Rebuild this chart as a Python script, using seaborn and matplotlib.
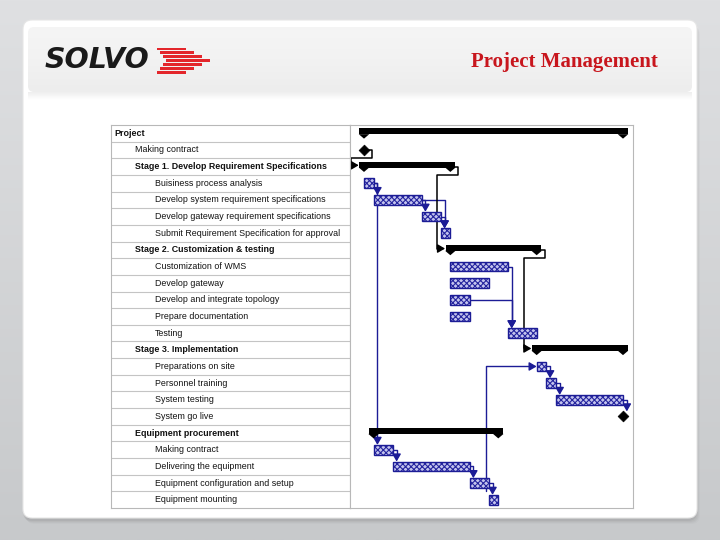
import numpy as np
import matplotlib
matplotlib.use("Agg")
import matplotlib.pyplot as plt
import seaborn as sns
from matplotlib.patches import FancyBboxPatch, Polygon, Rectangle

# ---------------- data ----------------
tasks = [
    "Project",
    "Making contract",
    "Stage 1. Develop Requirement Specifications",
    "Buisiness process analysis",
    "Develop system requirement specifications",
    "Develop gateway requirement specifications",
    "Submit Requirement Specification for approval",
    "Stage 2. Customization & testing",
    "Customization of WMS",
    "Develop gateway",
    "Develop and integrate topology",
    "Prepare documentation",
    "Testing",
    "Stage 3. Implementation",
    "Preparations on site",
    "Personnel training",
    "System testing",
    "System go live",
    "Equipment procurement",
    "Making contract",
    "Delivering the equipment",
    "Equipment configuration and setup",
    "Equipment mounting",
]
levels = [0, 1, 1, 2, 2, 2, 2, 1, 2, 2, 2, 2, 2, 1, 2, 2, 2, 2, 1, 2, 2, 2, 2]
kinds = ["summary", "milestone", "summary", "task", "task", "task", "task",
         "summary", "task", "task", "task", "task", "task",
         "summary", "task", "task", "task", "milestone",
         "summary", "task", "task", "task", "task"]
starts = [0, 0, 0, 0, 1, 6, 8, 9, 9, 9, 9, 9, 15, 18, 18, 19, 20, 27, 1, 1, 3, 11, 13]
durations = [27, 0, 9, 1, 5, 2, 1, 9, 6, 4, 2, 2, 3, 9, 1, 1, 7, 0, 13, 2, 8, 2, 1]

task_links = [(3, 4), (3, 19), (4, 5), (4, 6), (5, 6), (8, 12), (10, 12),
              (14, 15), (15, 16), (16, 17), (19, 20), (20, 21), (21, 22)]
up_links = [(21, 14)]
summary_links = [(1, 2), (2, 7), (7, 13)]

# ---------------- style ----------------
sns.set_theme(style="white")
plt.rcParams["font.family"] = ["Liberation Sans", "DejaVu Sans"]
plt.rcParams["hatch.linewidth"] = 0.8

W, H = 720, 540
fig = plt.figure(figsize=(7.2, 5.4), dpi=100)

# background axes in pixel coordinates
bg = fig.add_axes([0, 0, 1, 1])
bg.set_xlim(0, W)
bg.set_ylim(H, 0)
bg.axis("off")
grad = np.linspace(0, 1, 256).reshape(-1, 1)
bg.imshow(grad, extent=(0, W, H, 0), cmap=matplotlib.colors.LinearSegmentedColormap.from_list(
    "bgc", ["#dfe0e2", "#c7c9cb"]), aspect="auto", zorder=0)

# panel shadow + panel
for i, a in enumerate([0.10, 0.08, 0.06, 0.04]):
    bg.add_patch(FancyBboxPatch((23 + i, 21 + i + 2), 674, 498,
                                boxstyle="round,pad=0,rounding_size=9",
                                fc="#707070", ec="none", alpha=a, zorder=1))
panel = FancyBboxPatch((23, 20), 674, 498, boxstyle="round,pad=0,rounding_size=9",
                       fc="white", ec="#e6e6e6", lw=0.8, zorder=2)
bg.add_patch(panel)

# header band
hdr = FancyBboxPatch((28, 27), 664, 65, boxstyle="round,pad=0,rounding_size=6",
                     fc="none", ec="none", zorder=3)
bg.add_patch(hdr)
hg = bg.imshow(np.linspace(0, 1, 256).reshape(-1, 1), extent=(28, 692, 92, 27),
               cmap=matplotlib.colors.LinearSegmentedColormap.from_list(
                   "hdr", ["#f5f5f5", "#f2f2f2", "#ededed"]), aspect="auto", zorder=3)
hg.set_clip_path(hdr)
bg.imshow(np.linspace(0, 1, 64).reshape(-1, 1), extent=(28, 692, 100, 92),
          cmap=matplotlib.colors.LinearSegmentedColormap.from_list(
              "sh", ["#efefef", "#ffffff"]), aspect="auto", zorder=3)

# logo
bg.text(45, 60, "SOLVO", fontsize=20.5, fontstyle="italic", fontweight="bold",
        family="DejaVu Sans", color="#1a1a1a", ha="left", va="center", zorder=4)
for k, t in enumerate(np.linspace(-1, 1, 7)):
    y0 = 47.5 + k * 3.9
    left = 157 + 9 * (1 - abs(t))
    right = 186 + 24 * (1 - abs(t))
    bg.add_patch(Rectangle((left, y0), right - left, 2.9, fc="#e3262b", ec="none", zorder=4))

# title
bg.text(658, 62, "Project Management", fontsize=15, fontweight="bold",
        family="Liberation Serif", color="#c8161d", ha="right", va="center", zorder=4)

# ---------------- table axes ----------------
def fx(px):
    return px / W

def fy(py):
    return 1 - py / H

top, bottom, left_px, mid_px, right_px = 125, 508, 111, 350, 633
n = len(tasks)
rows = np.arange(n)

tab = fig.add_axes([fx(left_px), fy(bottom), (mid_px - left_px) / W, (bottom - top) / H])
tab.set_xlim(0, 1)
tab.set_ylim(n - 0.5, -0.5)
tab.set_xticks([])
tab.set_yticks([])
for s in tab.spines.values():
    s.set_color("#b8b8b8")
    s.set_linewidth(0.8)
for i in range(n - 1):
    tab.axhline(i + 0.5, color="#c4c4c4", lw=0.8)
indent = {0: 3, 1: 24, 2: 44}
for i, (name, lv, kd) in enumerate(zip(tasks, levels, kinds)):
    tab.text(indent[lv] / (mid_px - left_px), i, name, fontsize=6.4,
             fontweight="bold" if kd == "summary" else "normal",
             ha="left", va="center", color="#111111")

# ---------------- gantt axes ----------------
px_per_unit = (623 - 364) / 27.0
x0 = (mid_px - 364) / px_per_unit
x1 = (right_px - 364) / px_per_unit
ax = fig.add_axes([fx(mid_px), fy(bottom), (right_px - mid_px) / W, (bottom - top) / H])
ax.set_xlim(x0, x1)
ax.set_ylim(n - 0.5, -0.5)
ax.set_xticks([])
ax.set_yticks([])
ax.set_facecolor("white")
for s in ax.spines.values():
    s.set_color("#b8b8b8")
    s.set_linewidth(0.8)

BLUE = "#1c1c96"
starts_a = np.array(starts, float)
dur_a = np.array(durations, float)
ends_a = starts_a + dur_a
kinds_a = np.array(kinds)

# task bars
tmask = kinds_a == "task"
ax.barh(rows[tmask], dur_a[tmask], left=starts_a[tmask], height=0.58,
        facecolor="#c4c4ee", edgecolor="#25259e", hatch="xxxxxx", lw=0, zorder=4)
ax.barh(rows[tmask], dur_a[tmask], left=starts_a[tmask], height=0.58,
        fill=False, edgecolor=BLUE, lw=1.0, zorder=5)

# summary bars
smask = kinds_a == "summary"
ax.barh(rows[smask] - 0.12, dur_a[smask] + 1.0, left=starts_a[smask] - 0.5,
        height=0.36, color="black", lw=0, zorder=3)
for r in rows[smask]:
    for xc in (starts_a[r], ends_a[r]):
        ax.add_patch(Polygon([(xc - 0.55, r + 0.05), (xc + 0.55, r + 0.05), (xc, r + 0.32)],
                             closed=True, fc="black", ec="none", zorder=3))

# milestones
mmask = kinds_a == "milestone"
sns.scatterplot(x=starts_a[mmask], y=rows[mmask], marker="D", s=30, color="black",
                edgecolor="black", linewidth=0.5, ax=ax, legend=False, zorder=6)

arrow_kw = dict(arrowstyle="-|>,head_length=0.55,head_width=0.32", mutation_scale=8,
                shrinkA=0, shrinkB=0, lw=1.0)

# task dependency links (downward)
for p, s in task_links:
    xv = max(ends_a[p], starts_a[s]) + 0.4
    ytop = s - (0.3 if kinds[s] == "milestone" else 0.29)
    ax.plot([ends_a[p], xv, xv], [p, p, ytop - 0.3], color=BLUE, lw=1.0, zorder=2)
    ax.annotate("", xy=(xv, ytop), xytext=(xv, ytop - 0.35),
                arrowprops=dict(color=BLUE, **arrow_kw), zorder=2)

# upward links
for p, s in up_links:
    xv = ends_a[p] - 0.3
    ax.plot([xv, xv, starts_a[s] - 0.6], [p + 0.5, s, s], color=BLUE, lw=1.0, zorder=2)
    ax.annotate("", xy=(starts_a[s], s), xytext=(starts_a[s] - 0.7, s),
                arrowprops=dict(color=BLUE, **arrow_kw), zorder=2)

# summary links (black, routed around)
for p, s in summary_links:
    xo = ends_a[p] + 0.85
    xl = starts_a[s] - 1.35
    xe = starts_a[s] - 0.55
    ys = s - 0.08
    ax.plot([ends_a[p], xo, xo, xl, xl, xe - 0.5], [p, p, p + 0.5, p + 0.5, ys, ys],
            color="black", lw=1.1, zorder=2)
    ax.annotate("", xy=(xe, ys), xytext=(xe - 0.6, ys),
                arrowprops=dict(color="black", **arrow_kw), zorder=2)

fig.savefig("out.png", dpi=100)
